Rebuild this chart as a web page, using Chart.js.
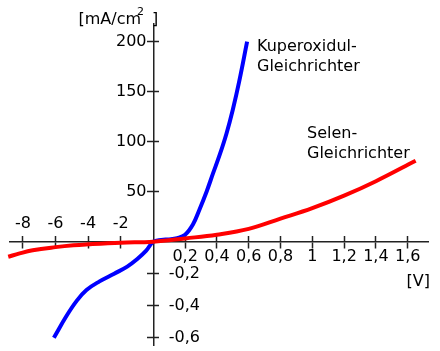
<!DOCTYPE html>
<html>
<head>
<meta charset="utf-8">
<script src="https://cdn.jsdelivr.net/npm/chart.js@4"></script>
<style>
  body { margin: 0; background: #fff; }
  canvas { display: block; }
</style>
</head>
<body>
<canvas id="kennlinie" width="440" height="351"></canvas>
<script>
// Kuperoxidul-Gleichrichter : Spannung [V], Stromdichte [mA/cm2]
const kupferU = [-6.1, -5.3, -4.7, -4.1, -3.3, -2.4, -1.6, -1.0, -0.45, 0, 0.05, 0.1, 0.15, 0.2, 0.25, 0.29, 0.335, 0.375, 0.42, 0.46, 0.5, 0.54, 0.59];
const kupferI = [-0.6, -0.46, -0.37, -0.302, -0.248, -0.2, -0.156, -0.11, -0.058, 0, 1.8, 2.3, 3.6, 7, 17.5, 32, 50, 68, 88, 108, 132, 160, 200];

// Selen-Gleichrichter
const selenU = [-8.9, -8.2, -7.4, -6, -4.9, -4, -2, 0, 0.2, 0.4, 0.6, 0.8, 1.0, 1.2, 1.4, 1.65];
const selenI = [-0.094, -0.073, -0.054, -0.034, -0.022, -0.016, -0.006, 0, 3.3, 7, 12.8, 23, 33.5, 46, 60.5, 81];

// Achsenteilung
const xNegTicks = [-8, -6, -4, -2];
const xPosTicks = [0.2, 0.4, 0.6, 0.8, 1, 1.2, 1.4, 1.6];
const yPosTicks = [50, 100, 150, 200];
const yNegTicks = [-0.2, -0.4, -0.6];

// getrennte Maßstäbe fuer positive und negative Halbachsen
const tx = v => v >= 0 ? v * 159 : v * 16.3;
const ty = i => i >= 0 ? i : i * 160;
const fmt = v => String(v).replace('.', ',');

const allX = xNegTicks.concat(xPosTicks);
const allY = yPosTicks.concat(yNegTicks);

const FONT = { family: 'DejaVu Sans', size: 16 };
const AXIS = '#222';

function pts(us, is) {
  return us.map((u, k) => ({ x: tx(u), y: ty(is[k]) }));
}

function xScale(labelFn, tl, pad, border) {
  return {
    type: 'linear', min: -143.3, max: 274.7,
    position: { y: 0 },
    afterBuildTicks: s => { s.ticks = allX.map(v => ({ value: tx(v) })); },
    ticks: { autoSkip: false, maxRotation: 0, minRotation: 0, padding: pad, font: FONT, color: '#000',
      callback: (val, idx) => labelFn(allX[idx]) },
    grid: { drawOnChartArea: false, drawTicks: true, tickLength: tl, tickColor: AXIS, tickWidth: 1.5 },
    border: { display: border, color: AXIS, width: 1.5 }
  };
}

// at = Lage der Skala auf der x-Achse (rechter Rand der Beschriftung)
function yScale(list, at, tl, border, showLabels) {
  return {
    type: 'linear', min: -103.3, max: 217.7,
    position: { x: at },
    afterBuildTicks: s => { s.ticks = list.map(v => ({ value: ty(v) })); },
    ticks: { display: showLabels, autoSkip: false, padding: -4, font: FONT, color: '#000',
      callback: (val, idx) => fmt(list[idx]) },
    grid: { drawOnChartArea: false, drawTicks: tl !== 0, tickLength: tl, tickColor: AXIS, tickWidth: 1.5 },
    border: { display: border, color: AXIS, width: 1.5 }
  };
}

const beschriftung = {
  id: 'beschriftung',
  afterDraw(chart) {
    const ctx = chart.ctx;
    ctx.save();
    ctx.fillStyle = '#000';
    ctx.textBaseline = 'alphabetic';
    ctx.textAlign = 'left';
    ctx.font = '16px "DejaVu Sans"';
    ctx.fillText('Kuperoxidul-', 257, 51);
    ctx.fillText('Gleichrichter', 257, 71);
    ctx.fillText('Selen-', 307, 138);
    ctx.fillText('Gleichrichter', 307, 157.5);
    ctx.fillText('[mA/cm', 78.5, 24);
    ctx.fillText(']', 152, 24);
    ctx.fillText('[V]', 406.5, 285.5);
    ctx.font = '11px "DejaVu Sans"';
    ctx.fillText('2', 137, 15);
    ctx.restore();
  }
};

new Chart(document.getElementById('kennlinie'), {
  type: 'line',
  data: {
    datasets: [
      {
        label: 'Selen-Gleichrichter',
        data: pts(selenU, selenI),
        borderColor: '#ff0000', borderWidth: 4, pointRadius: 0,
        tension: 0.4, clip: false
      },
      {
        label: 'Kuperoxidul-Gleichrichter',
        data: pts(kupferU, kupferI),
        borderColor: '#0000ff', borderWidth: 4, pointRadius: 0,
        tension: 0.4, clip: false
      }
    ]
  },
  options: {
    responsive: false,
    animation: false,
    devicePixelRatio: 1,
    layout: { padding: { left: 10, right: 12, top: 24, bottom: 6 } },
    plugins: { legend: { display: false }, tooltip: { enabled: false } },
    scales: {
      x: xScale(v => v > 0 ? fmt(v) : '', 6, -0.8, true),
      x2: xScale(v => v < 0 ? fmt(v) : '', -6, -21.1, false),
      y: yScale(allY, 0, 6, true, false),
      y3: yScale(allY, 0, -6, false, false),
      yl: yScale(yPosTicks, -6.8, 0, false, true),
      yr: yScale(yNegTicks, 46.7, 0, false, true)
    }
  },
  plugins: [beschriftung]
});
</script>
</body>
</html>
